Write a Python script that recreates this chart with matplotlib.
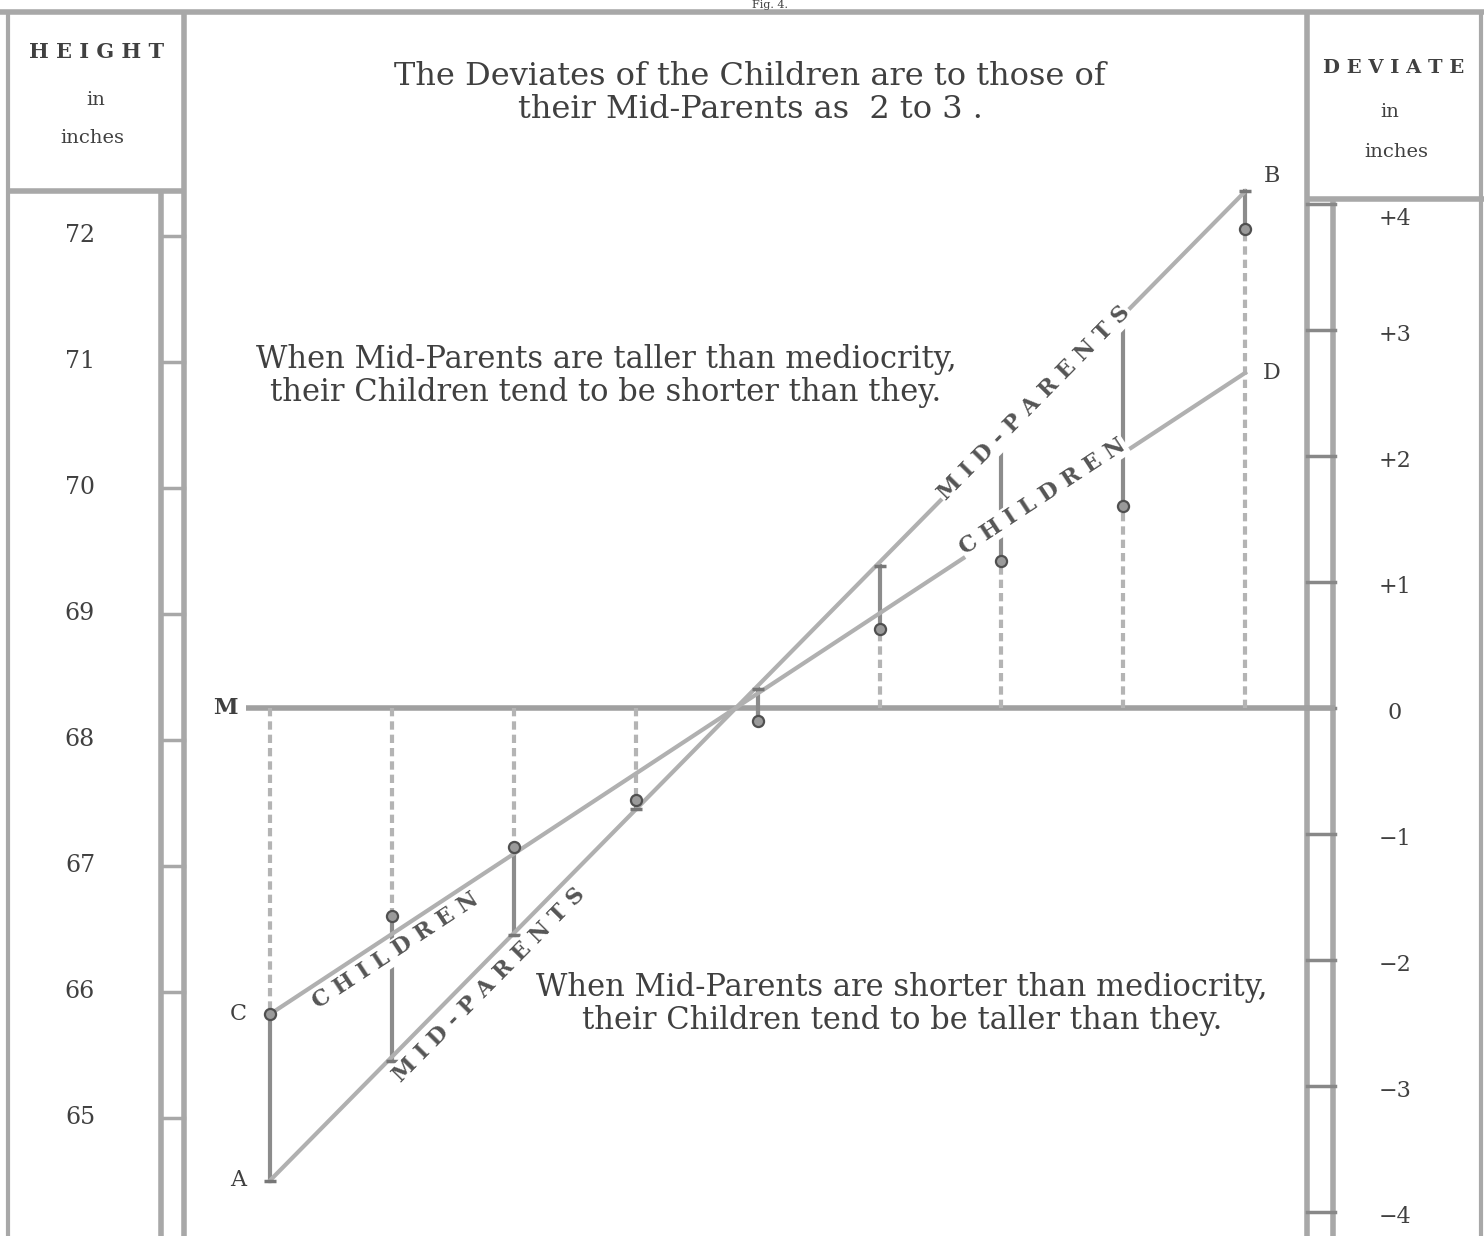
import numpy as np
import matplotlib.pyplot as plt
import matplotlib.transforms as mtransforms

# heights scale (left) and deviate scale (right), inches
heights = [72, 71, 70, 69, 68, 67, 66, 65]
mediocrity = 68.25
deviates = [4, 3, 2, 1, 0, -1, -2, -3, -4]
deviate_labels = ['+4', '+3', '+2', '+1', '0', '−1', '−2', '−3', '−4']

# one column per group of mid-parents, values are deviates from mediocrity
columns = np.arange(9)
mid_parent_dev = [-3.75, -2.8, -1.8, -0.8, 0.15, 1.13, 2.13, 3.1, 4.1]
children_dev = [-2.43, -1.65, -1.1, -0.73, -0.1, 0.63, 1.17, 1.6, 3.8]
children_line = [-2.43, 2.66]   # C .. D

W, H = 1484, 1236
fig = plt.figure(figsize=(W / 100, H / 100), dpi=100)
fig.patch.set_facecolor('white')
ax = fig.add_axes([0, 0, 1, 1])
ax.axis('off')
# column 0 sits at 270px, columns 121.9px apart; zero deviate at 708px, 126px per inch
ax.set_xlim((0 - 270) / 121.9, (W - 270) / 121.9)
ax.set_ylim((708 - H) / 126, 708 / 126)

# pixel transform for the printed frame (origin top-left)
px = mtransforms.Affine2D().scale(1 / W, -1 / H).translate(0, 1) + fig.transFigure
px_data = mtransforms.blended_transform_factory(px, ax.transData)

frame = '#a8a8a8'
ink = '#404040'
serif = 'DejaVu Serif'

def rule(x, y, lw=4, c=frame):
    ax.add_line(plt.Line2D(x, y, transform=px, color=c, lw=lw, solid_capstyle='butt'))

# outer frame and columns
rule([0, W], [12, 12], lw=4)
rule([8, 8], [12, H], lw=3)
rule([184, 184], [12, H], lw=4)
rule([1307, 1307], [12, H], lw=4)
rule([1481, 1481], [12, H], lw=3)
rule([8, 184], [191, 191], lw=4)
rule([1307, W], [199, 199], lw=4)
rule([161, 161], [191, H], lw=4)
rule([1333, 1333], [199, H], lw=4)

# scale ticks
for h in heights:
    ax.plot([161, 184], [h - mediocrity] * 2, transform=px_data, color=frame, lw=2.5)
    ax.text(80, h - mediocrity, str(h), transform=px_data, ha='center', va='center',
            fontsize=17, family=serif, color=ink)
for d, lab in zip(deviates, deviate_labels):
    ax.plot([1307, 1335], [d, d], transform=px_data, color='#888888', lw=2.5)
    ax.text(1395, d - (0.12 if d == 4 else 0.04), lab, transform=px_data,
            ha='center', va='center', fontsize=16, family=serif, color=ink)

# column headers
for x, y, s, fs, wt in [(97, 52, 'H E I G H T', 15, 'bold'), (96, 100, 'in', 14, 'normal'),
                        (92, 138, 'inches', 14, 'normal'),
                        (1394, 68, 'D E V I A T E', 14, 'bold'), (1390, 112, 'in', 14, 'normal'),
                        (1396, 152, 'inches', 14, 'normal')]:
    ax.text(x, y, s, transform=px, ha='center', va='center', fontsize=fs,
            fontweight=wt, family=serif, color=ink)

ax.text(770, 0, 'Fig. 4.', transform=px, ha='center', va='top', fontsize=8,
        family=serif, color=ink)
ax.text(750, 93, 'The Deviates of the Children are to those of\ntheir Mid-Parents as  2 to 3 .',
        transform=px, ha='center', va='center', fontsize=23, family=serif,
        color=ink, linespacing=1.1)
ax.text(606, 376, 'When Mid-Parents are taller than mediocrity,\ntheir Children tend to be shorter than they.',
        transform=px, ha='center', va='center', fontsize=22, family=serif,
        color=ink, linespacing=1.05)
ax.text(902, 1004, 'When Mid-Parents are shorter than mediocrity,\ntheir Children tend to be taller than they.',
        transform=px, ha='center', va='center', fontsize=22, family=serif,
        color=ink, linespacing=1.05, zorder=6)

# mediocrity line M
ax.plot([-0.2, 8.74], [0, 0], color='#a0a0a0', lw=4, solid_capstyle='butt', zorder=2)

# verticals: dotted from M to the children's mean, solid from there to the mid-parents
for i in columns:
    ax.plot([i, i], [0, children_dev[i]], color='#b4b4b4', lw=3,
            ls=(0, (2, 1.2)), zorder=2)
    ax.plot([i, i], [children_dev[i], mid_parent_dev[i]], color='#8c8c8c', lw=3, zorder=2)

# mid-parents line A-B and children line C-D
ax.plot([columns[0], columns[-1]], [mid_parent_dev[0], mid_parent_dev[-1]],
        color='#b0b0b0', lw=3, zorder=3)
ax.plot([columns[0], columns[-1]], children_line, color='#b0b0b0', lw=3, zorder=3)

ax.plot(columns, mid_parent_dev, '_', ms=8, mew=2.5, color='#777777', zorder=4)
ax.plot(columns, children_dev, 'o', ms=8, mfc='#9a9a9a', mec='#505050', mew=1.6, zorder=5)

for s, x, y in [('M', -0.37, 0.0), ('A', -0.26, mid_parent_dev[0]),
                ('C', -0.26, children_line[0]), ('B', 8.22, mid_parent_dev[-1] + 0.12),
                ('D', 8.22, children_line[1])]:
    ax.text(x, y, s, ha='center', va='center', fontsize=16, family=serif,
            color=ink, fontweight='bold' if s == 'M' else 'normal', zorder=6)

def slope_angle(y0, y1):
    p = ax.transData.transform([(columns[0], y0), (columns[-1], y1)])
    return np.degrees(np.arctan2(p[1, 1] - p[0, 1], p[1, 0] - p[0, 0]))

a_mid = slope_angle(mid_parent_dev[0], mid_parent_dev[-1])
a_chi = slope_angle(children_line[0], children_line[1])
box = dict(facecolor='white', edgecolor='none', pad=1)
for s, x, y, a in [('M I D - P A R E N T S', 6.27, 2.42, a_mid),
                   ('C H I L D R E N', 6.34, 1.68, a_chi),
                   ('C H I L D R E N', 1.03, -1.93, a_chi),
                   ('M I D - P A R E N T S', 1.8, -2.2, a_mid)]:
    ax.text(x, y, s, rotation=a, rotation_mode='anchor', ha='center', va='center',
            fontsize=16, fontweight='bold', family=serif, color='#555555',
            bbox=box, zorder=5)

fig.savefig('out.png', dpi=100, facecolor='white')
